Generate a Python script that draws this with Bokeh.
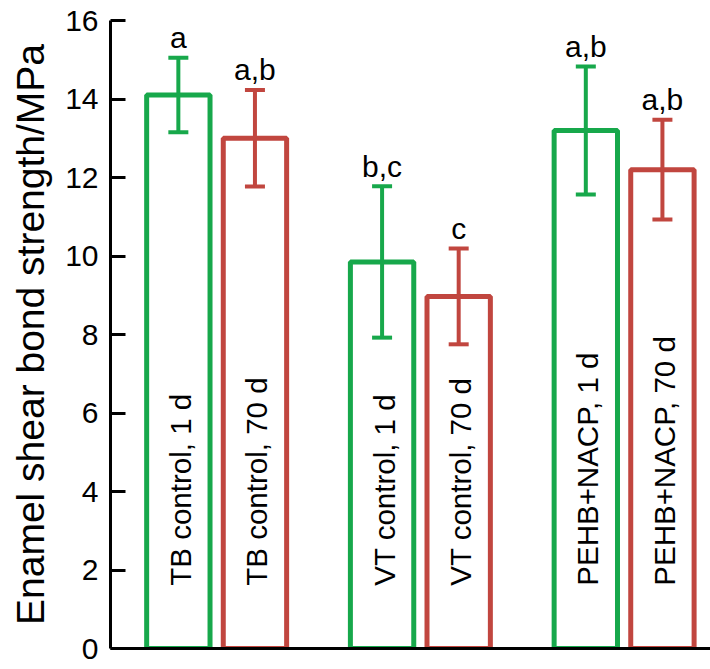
import math
from bokeh.plotting import figure
from bokeh.models import Range1d, ColumnDataSource, Whisker, TeeHead, FixedTicker
from bokeh.core.properties import value
from bokeh.embed import file_html
from bokeh.resources import INLINE

# ---- data ----
groups = ["TB control", "VT control", "PEHB+NACP"]
times = ["1 d", "70 d"]
labels = ["TB control, 1 d", "TB control, 70 d",
          "VT control, 1 d", "VT control, 70 d",
          "PEHB+NACP, 1 d", "PEHB+NACP, 70 d"]
means = [14.1, 13.0, 9.85, 8.97, 13.2, 12.2]
sds = [0.95, 1.23, 1.93, 1.22, 1.63, 1.27]
letters = ["a", "a,b", "b,c", "c", "a,b", "a,b"]
y_ticks = [0, 2, 4, 6, 8, 10, 12, 14, 16]

# ---- styles ----
GREEN = "#17a84b"
RED = "#c1463f"
FONT = "Liberation Sans"
offset = 0.188
bar_w = 0.311

xs, cols = [], []
for gi, g in enumerate(groups):
    for ti, t in enumerate(times):
        xs.append(gi + (-offset if ti == 0 else offset))
        cols.append(GREEN if ti == 0 else RED)

src = ColumnDataSource(dict(
    x=xs, top=means, sd=sds, color=cols, label=labels, letter=letters,
    upper=[m + s for m, s in zip(means, sds)],
    lower=[m - s for m, s in zip(means, sds)],
    ty=[1.6] * len(means),
))

p = figure(width=710, height=669, output_backend="svg", toolbar_location=None,
           x_range=Range1d(-0.521, 2.424), y_range=Range1d(0, 16),
           min_border_left=110, min_border_top=20, min_border_bottom=21,
           min_border_right=0)
p.outline_line_color = None
p.grid.visible = False
p.background_fill_color = "white"

p.vbar(x="x", top="top", bottom=0, width=bar_w, source=src,
       fill_color="white", line_color="color", line_width=5)

w = Whisker(base="x", upper="upper", lower="lower", source=src,
            line_color="color", line_width=4, level="overlay",
            upper_head=TeeHead(size=20, line_width=4, line_color="color"),
            lower_head=TeeHead(size=20, line_width=4, line_color="color"))
p.add_layout(w)

p.text(x="x", y="upper", text="letter", source=src, text_align="center",
       text_baseline="alphabetic", y_offset=-20, text_font=value(FONT),
       text_font_size="30px", text_color="black")

p.text(x="x", y="ty", text="label", source=src, angle=math.pi / 2,
       text_align="left", text_baseline="middle", x_offset=2,
       text_font=value(FONT), text_font_size="29.5px", text_color="black")

ya = p.yaxis[0]
ya.ticker = FixedTicker(ticks=y_ticks)
ya.minor_tick_line_color = None
ya.major_tick_in = 15
ya.major_tick_out = 0
ya.major_tick_line_width = 3
ya.axis_line_width = 3
ya.axis_line_color = "black"
ya.major_tick_line_color = "black"
ya.major_label_text_font = FONT
ya.major_label_text_font_size = "30px"
ya.major_label_text_color = "black"
ya.major_label_standoff = 12
ya.axis_label = "Enamel shear bond strength/MPa"
ya.axis_label_text_font = FONT
ya.axis_label_text_font_size = "39px"
ya.axis_label_text_font_style = "normal"
ya.axis_label_text_color = "black"
ya.axis_label_standoff = 10

xa = p.xaxis[0]
xa.ticker = FixedTicker(ticks=[])
xa.major_tick_in = 0
xa.major_tick_out = 0
xa.minor_tick_line_color = None
xa.major_label_text_font_size = "0px"
xa.axis_line_width = 3
xa.axis_line_color = "black"

open("out.html", "w").write(file_html(p, INLINE))
